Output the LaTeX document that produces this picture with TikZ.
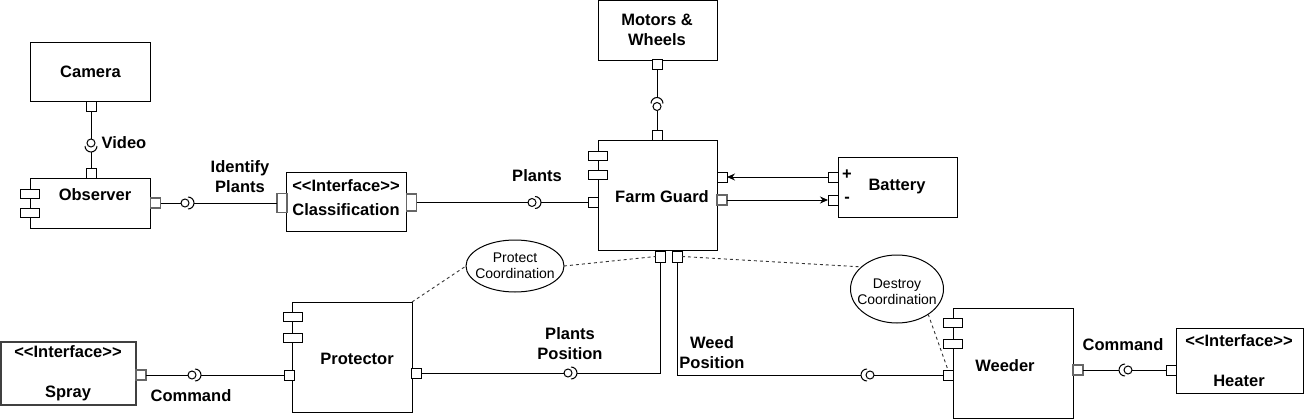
\documentclass[tikz,border=0pt]{standalone}
\usepackage{fontspec}
\setmainfont{Liberation Sans}
\usetikzlibrary{arrows.meta,shapes.geometric,calc}
\begin{document}
\begin{tikzpicture}[x=1pt,y=-1pt,
  every node/.style={inner sep=0pt,outer sep=0pt},
  box/.style={draw,line width=1pt,fill=white},
  port/.style={draw,line width=1pt,fill=white,minimum width=10pt,minimum height=10pt},
  gport/.style={port,draw=black!60,line width=1.4pt},
  icon/.style={draw,line width=1pt,fill=white,minimum width=19pt,minimum height=9pt},
  lbl/.style={font=\fontsize{16.5}{20.5}\selectfont\bfseries,align=center},
  small/.style={font=\fontsize{14}{16.5}\selectfont,align=center},
  conn/.style={line width=1pt},
  dashln/.style={line width=0.9pt,dash pattern=on 3pt off 3pt,black!80},
  arr/.style={conn,-{Stealth[length=8pt,width=7pt]}},
  coord/.style={draw,ellipse,line width=1pt,fill=white},
]
\useasboundingbox (0,0) rectangle (1304,420);

% component boxes
\node[box,minimum width=120pt,minimum height=59pt] (camera) at (90.5,72) {};
\node[box,minimum width=120pt,minimum height=50pt] (observer) at (90.5,203) {};
\node[box,minimum width=120pt,minimum height=59pt] (classif) at (346.5,202) {};
\node[box,minimum width=119pt,minimum height=59.5pt] (motors) at (657.5,30.5) {};
\node[box,minimum width=119pt,minimum height=110pt] (farm) at (657.5,195) {};
\node[box,minimum width=119pt,minimum height=60pt] (battery) at (897.5,187) {};
\node[box,draw=black!75,line width=1.3pt,minimum width=135pt,minimum height=63pt] (spray) at (68.5,373.5) {};
\node[box,minimum width=120pt,minimum height=110pt] (protector) at (352,357) {};
\node[box,minimum width=120pt,minimum height=110pt] (weeder) at (1013,363) {};
\node[box,minimum width=127pt,minimum height=65pt] (heater) at (1239.5,360.5) {};

% component icons
\node[icon] (obsI1) at (30,193.5) {};
\node[icon] (obsI2) at (30,212.5) {};
\node[icon] (fgI1) at (597.5,155.5) {};
\node[icon] (fgI2) at (597.5,175) {};
\node[icon] (prI1) at (292.5,317) {};
\node[icon] (prI2) at (292.5,337.5) {};
\node[icon] (weI1) at (953,323) {};
\node[icon] (weI2) at (953,343.5) {};

% texts in boxes
\node[lbl] (tcam) at (90.5,72) {Camera};
\node[lbl] (tobs) at (95,194.5) {Observer};
\node[lbl] (tcls1) at (346,186) {<{}<Interface>{}>};
\node[lbl] (tcls2) at (346,210) {Classification};
\node[lbl] (tmot) at (657,30) {Motors \&\\Wheels};
\node[lbl] (tfarm) at (662,197) {Farm Guard};
\node[lbl] (tbat) at (897,187) {Battery};
\node[lbl] (tplus) at (847,175) {+};
\node[lbl] (tminus) at (847,199.5) {-};
\node[lbl] (tspr1) at (68,352) {<{}<Interface>{}>};
\node[lbl] (tspr2) at (68,393) {Spray};
\node[lbl] (tprot) at (357,359) {Protector};
\node[lbl] (tweed) at (1005,366) {Weeder};
\node[lbl] (thea1) at (1239,341) {<{}<Interface>{}>};
\node[lbl] (thea2) at (1239,381) {Heater};

% connector labels
\node[lbl] (lvideo) at (124,143) {Video};
\node[lbl] (lident) at (240,176.5) {Identify\\Plants};
\node[lbl] (lplants) at (537,176) {Plants};
\node[lbl] (lppos) at (570,343.5) {Plants\\Position};
\node[lbl] (lwpos) at (712,352.5) {Weed\\Position};
\node[lbl] (lcmd1) at (191,396) {Command};
\node[lbl] (lcmd2) at (1123,345) {Command};

% coordination ellipses
\node[coord,minimum width=98pt,minimum height=52pt] (pc) at (515,266) {};
\node[small] (tpc) at (515,266) {Protect\\Coordination};
\node[coord,minimum width=93pt,minimum height=68pt] (dc) at (897,289) {};
\node[small] (tdc) at (897,291.5) {Destroy\\Coordination};

% ports
\node[port] (camP) at (91,106) {};
\node[port] (obsT) at (91,173) {};
\node[gport] (obsR) at (155.5,203) {};
\node[gport,minimum height=19pt] (clsL) at (282,203) {};
\node[gport,minimum height=17pt] (clsR) at (411.5,202.5) {};
\node[port] (motP) at (657,65) {};
\node[port] (fgT) at (657,135) {};
\node[port] (fgL) at (593,202.5) {};
\node[port] (fgR1) at (722,177) {};
\node[gport] (fgR2) at (722,200) {};
\node[port] (batP) at (833,177) {};
\node[port] (batM) at (833,200) {};
\node[port,minimum height=11pt] (fgB1) at (660.5,256.5) {};
\node[port,minimum height=11pt] (fgB2) at (677,256.5) {};
\node[gport] (sprP) at (141,375) {};
\node[port] (protL) at (289,375) {};
\node[port] (protR) at (416.5,373) {};
\node[port] (weedL) at (948,375) {};
\node[gport] (weedR) at (1078,370) {};
\node[port] (heatP) at (1171,370) {};

% Camera - Observer (Video)
\coordinate (vb) at (91,143);
\draw[conn] (camP.south) -- ($(vb)+(0,-4)$);
\draw[conn] (vb) circle[radius=4pt];
\draw[conn] ($(vb)+(-6,3)$) arc[start angle=180,end angle=360,radius=6pt];
\draw[conn] (obsT.north) -- ($(vb)+(0,9)$);

% Observer - Classification (Identify Plants)
\coordinate (ib) at (185,203);
\draw[conn] (obsR.east) -- ($(ib)+(-4,0)$);
\draw[conn] (ib) circle[radius=4pt];
\draw[conn] ($(ib)+(3,-6)$) arc[start angle=90,end angle=-90,radius=6pt];
\draw[conn] ($(ib)+(9,0)$) -- (clsL.west);

% Classification - Farm Guard (Plants)
\coordinate (pb) at (532,202.5);
\draw[conn] (clsR.east) -- ($(pb)+(-4,0)$);
\draw[conn] (pb) circle[radius=4pt];
\draw[conn] ($(pb)+(3,-6)$) arc[start angle=90,end angle=-90,radius=6pt];
\draw[conn] ($(pb)+(9,0)$) -- (fgL.west);

% Motors - Farm Guard
\coordinate (mb) at (657,106.5);
\draw[conn] (motP.south) -- ($(mb)+(0,-9)$);
\draw[conn] ($(mb)+(-6,-3)$) arc[start angle=180,end angle=0,radius=6pt];
\draw[conn] (mb) circle[radius=4pt];
\draw[conn] ($(mb)+(0,4)$) -- (fgT.north);

% Battery
\draw[arr] (batP.west) -- (fgR1.east);
\draw[arr] (fgR2.east) -- (batM.west);

% Farm Guard - Protector (Plants Position)
\coordinate (ppb) at (568,373);
\draw[conn] (fgB1.south) |- ($(ppb)+(9,0)$);
\draw[conn] ($(ppb)+(3,-6)$) arc[start angle=90,end angle=-90,radius=6pt];
\draw[conn] (ppb) circle[radius=4pt];
\draw[conn] ($(ppb)+(-4,0)$) -- (protR.east);

% Farm Guard - Weeder (Weed Position)
\coordinate (wpb) at (870,375);
\draw[conn] (fgB2.south) |- ($(wpb)+(-9,0)$);
\draw[conn] ($(wpb)+(-3,-6)$) arc[start angle=90,end angle=270,radius=6pt];
\draw[conn] (wpb) circle[radius=4pt];
\draw[conn] ($(wpb)+(4,0)$) -- (weedL.west);

% Spray - Protector (Command)
\coordinate (sb) at (192,375);
\draw[conn] (sprP.east) -- ($(sb)+(-4,0)$);
\draw[conn] (sb) circle[radius=4pt];
\draw[conn] ($(sb)+(3,-6)$) arc[start angle=90,end angle=-90,radius=6pt];
\draw[conn] ($(sb)+(9,0)$) -- (protL.west);

% Weeder - Heater (Command)
\coordinate (hb) at (1128,370);
\draw[conn] (weedR.east) -- ($(hb)+(-9,0)$);
\draw[conn] ($(hb)+(-3,-6)$) arc[start angle=90,end angle=270,radius=6pt];
\draw[conn] (hb) circle[radius=4pt];
\draw[conn] ($(hb)+(4,0)$) -- (heatP.west);

% coordination dashed links
\draw[dashln] (protector.north east) -- (pc.west);
\draw[dashln] (pc.east) -- (fgB1.west);
\draw[dashln] (fgB2.east) -- (dc.148);
\draw[dashln] (dc.-39) -- (weedL.north);
\end{tikzpicture}
\end{document}
